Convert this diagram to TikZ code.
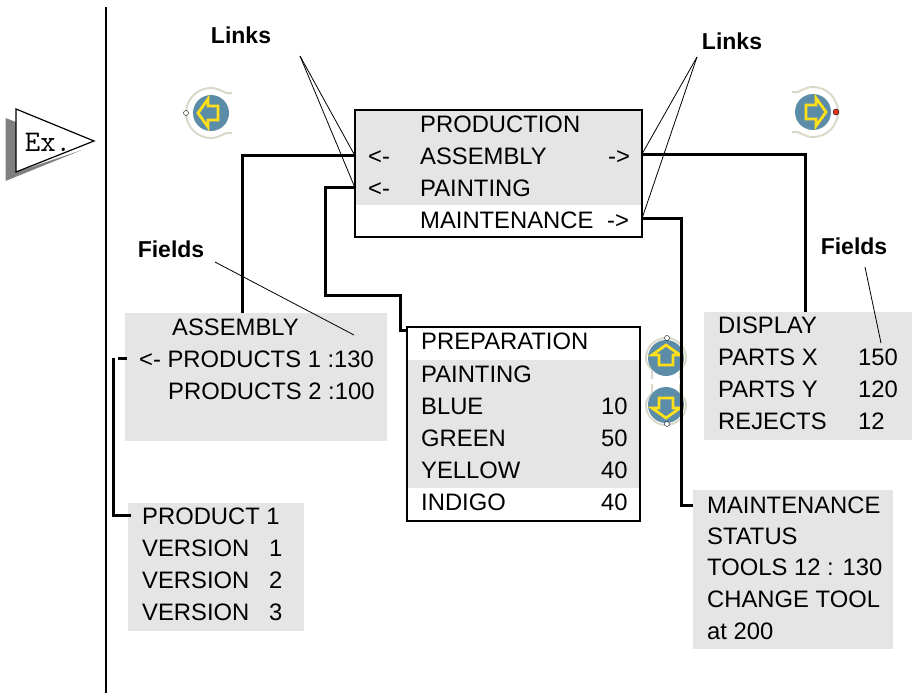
\documentclass[tikz,border=0pt]{standalone}
\usepackage{xcolor}
\usepackage{fontspec}
\usepackage{tikz}
\usetikzlibrary{positioning}
\setmainfont{Liberation Sans}
\definecolor{panelgrey}{HTML}{E5E5E5}
\definecolor{iconblue}{HTML}{5B8CA8}
\definecolor{iconyellow}{HTML}{FFE01A}
\definecolor{iconrim}{HTML}{D9D9C9}
\definecolor{shadowgrey}{HTML}{808080}
\definecolor{dotred}{HTML}{E8301C}
\tikzset{
    row/.style={anchor=base west, inner sep=0pt, font=\fontsize{23.8}{24}\selectfont},
    callout/.style={inner sep=0pt, font=\fontsize{23}{23}\selectfont\bfseries},
    panel/.style={anchor=north west, fill=panelgrey, inner sep=0pt, outer sep=0pt},
    frame/.style={anchor=north west, draw=black, line width=2pt, inner sep=0pt, outer sep=0pt},
    wire/.style={line width=3pt, line cap=butt},
    pointer/.style={line width=0.8pt},
    pics/navicon/.style n args={2}{code={
        \draw[iconrim, line width=2pt] (21,-#2) -- (0.6*#1,-#2) .. controls (0.3*#1,-0.96*#1) and (0.16*#1,-#1) .. (0,-#1)
            .. controls (-0.55*#1,-#1) and (-#1,-0.55*#1) .. (-#1,0)
            .. controls (-#1,0.55*#1) and (-0.55*#1,#1) .. (0,#1)
            .. controls (0.16*#1,#1) and (0.3*#1,0.96*#1) .. (0.6*#1,#2) -- (21,#2);
        \fill[iconblue] (0,0) circle (18);
        \draw[iconyellow, line width=2.8pt, line join=miter] (-13,0) -- (-3,-14) -- (-3,-7) -- (7,-7) -- (7,7) -- (-3,7) -- (-3,14) -- cycle;
    }}
}
\begin{document}
\begin{tikzpicture}[x=1pt, y=-1pt]

    \useasboundingbox (0,0) rectangle (912,693);

    % margin
    \coordinate (margintop) at (106,7);
    \coordinate (marginend) at (106,693);
    \draw[line width=2pt] (margintop) -- (marginend);

    \fill[shadowgrey] (5.5,118) -- (16,122) -- (16,172) -- (82,150) -- (5.5,181) -- cycle;
    \draw[line width=1.2pt, fill=white] (16,109) -- (94,141) -- (16,172) -- cycle;
    \node (extag) at (48,142) {\ttfamily\fontsize{30}{30}\selectfont Ex.};

    % panels
    \node (mainfill) [panel, minimum width=287pt, minimum height=95pt] at (355,110) {};
    \node (paintfill) [panel, minimum width=233pt, minimum height=128pt] at (407,360) {};
    \node (asmbox) [panel, minimum width=262pt, minimum height=128pt] at (125,313) {};
    \node (prodbox) [panel, minimum width=176pt, minimum height=128pt] at (128,503) {};
    \node (dispbox) [panel, minimum width=208pt, minimum height=128pt] at (704,312) {};
    \node (maintbox) [panel, minimum width=200pt, minimum height=159pt] at (693,490) {};
    \node (mainbox) [frame, minimum width=287pt, minimum height=127pt] at (355,110) {};
    \node (paintbox) [frame, minimum width=233pt, minimum height=194pt] at (407,327) {};

    % icons
    \pic at (211,113) {navicon={25}{20}};
    \pic[rotate=180] at (813,112) {navicon={25}{20}};
    \pic[rotate=-90] at (666,358) {navicon={20}{14}};
    \pic[rotate=90] at (666,405) {navicon={20}{14}};
    \node (dotleft) [circle, draw, fill=white, inner sep=0pt, minimum size=5pt] at (186,113) {};
    \node (dotright) [circle, draw, fill=dotred, inner sep=0pt, minimum size=6pt] at (836,112) {};
    \node (dotup) [circle, draw, fill=white, inner sep=0pt, minimum size=5pt] at (667,338) {};
    \node (dotdown) [circle, draw, fill=white, inner sep=0pt, minimum size=5pt] at (667,424) {};

    % main menu
    \node (mainhead) [row] at (420,132) {PRODUCTION};
    \node (asmleft) [row] at (368,164) {<-};
    \node (asmrow) [row] at (420,164) {ASSEMBLY};
    \node (asmright) [row] at (608,164) {->};
    \node (paintleft) [row] at (368,196) {<-};
    \node (paintrow) [row] at (420,196) {PAINTING};
    \node (maintrow) [row] at (420,228) {MAINTENANCE};
    \node (maintright) [row] at (607,228) {->};

    % painting screen
    \node (prephead) [row] at (421,349) {PREPARATION};
    \node (painthead) [row] at (421,382) {PAINTING};
    \foreach \colname/\amount/\ypos in {BLUE/10/414, GREEN/50/446, YELLOW/40/478, INDIGO/40/510} {
        \node (\colname) [row] at (421,\ypos) {\colname};
        \node (\colname val) [row] at (601,\ypos) {\amount};
    }

    % assembly screen
    \node (asmhead) [row] at (172,335) {ASSEMBLY};
    \node (prodone) [row] at (139,367) {<- PRODUCTS 1 :130};
    \node (prodtwo) [row] at (168,399) {PRODUCTS 2 :100};

    % product screen
    \node (prodhead) [row] at (142,524) {PRODUCT 1};
    \foreach \num/\ypos in {1/556, 2/588, 3/620} {
        \node (ver\num) [row] at (142,\ypos) {VERSION};
        \node (vernum\num) [row] at (269,\ypos) {\num};
    }

    % display screen
    \node (disphead) [row] at (718,333) {DISPLAY};
    \node (partsx) [row] at (718,365) {PARTS X};
    \node (partsxval) [row] at (858,365) {150};
    \node (partsy) [row] at (718,397) {PARTS Y};
    \node (partsyval) [row] at (858,397) {120};
    \node (rejects) [row] at (718,429) {REJECTS};
    \node (rejectsval) [row] at (858,429) {12};

    % maintenance screen
    \node (mainthead) [row] at (707,513) {MAINTENANCE};
    \node (status) [row] at (707,544) {STATUS};
    \node (tools) [row] at (707,575) {TOOLS 12 : 130};
    \node (change) [row] at (707,607) {CHANGE TOOL};
    \node (atrow) [row] at (707,639) {at 200};

    % wires
    \coordinate (asmout) at (642,154);
    \coordinate (maintout) at (642,218.5);
    \draw[wire] (mainbox.west |- asmrow.west) -| ([xshift=-14pt]asmbox.north);
    \draw[wire] (mainbox.west |- paintrow.west) -| (325,295) -| (400,330) -- (paintbox.west |- 0,330);
    \draw[wire] (asmout) -| ([xshift=-3pt]dispbox.north);
    \draw[wire] (maintout) -| (681,505) -- (maintbox.west |- 0,505);
    \coordinate (prodturn) at (113,358);
    \draw[wire] (asmbox.west |- prodone.west) ++(2,0) -- ++(-9,0);
    \draw[wire] (prodturn) |- ([xshift=3pt]prodbox.west |- prodhead.west);

    % callouts
    \node (linksleft) [callout] at (241,35) {Links};
    \node (linksright) [callout] at (732,41) {Links};
    \node (fieldsleft) [callout] at (171,249) {Fields};
    \node (fieldsright) [callout] at (854,246) {Fields};
    \coordinate (linkstartl) at (300,56);
    \coordinate (linkstartr) at (697,57);
    \draw[pointer] (linkstartl) -- (mainbox.west |- asmrow.west);
    \draw[pointer] (linkstartl) -- (mainbox.west |- paintrow.west);
    \draw[pointer] (linkstartr) -- (asmout);
    \draw[pointer] (linkstartr) -- (maintout);
    \draw[pointer] (215,262) -- (354,335);
    \draw[pointer] (865,267) -- (881,343);

\end{tikzpicture}
\end{document}
